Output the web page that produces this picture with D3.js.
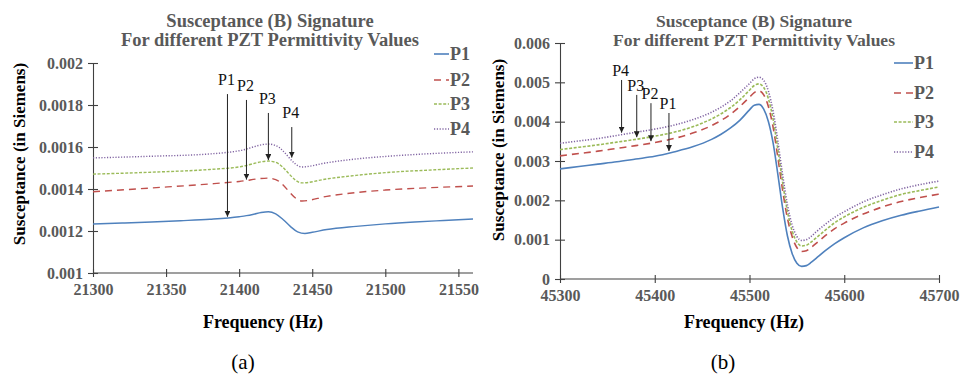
<!DOCTYPE html>
<html>
<head>
<meta charset="utf-8">
<script src="https://cdn.jsdelivr.net/npm/d3@7"></script>
<style>
  html, body { margin: 0; padding: 0; background: #fff; }
  svg { display: block; }
</style>
</head>
<body>
<svg id="chart" width="961" height="376"></svg>
<script>
// ---- Panel (a): first resonance, 21.3–21.56 kHz ----
const freqA1 = [21300, 21320, 21340, 21360, 21380, 21400, 21405, 21410, 21415, 21420, 21425,
                21430, 21435, 21440, 21445, 21450, 21460, 21480, 21500, 21520, 21540, 21560];
const p1A = [0.001233, 0.001238, 0.001243, 0.001249, 0.001256, 0.001268, 0.001273, 0.001280,
             0.001288, 0.001292, 0.001282, 0.001255, 0.001222, 0.001196, 0.001188, 0.001194,
             0.001207, 0.001222, 0.001234, 0.001243, 0.001250, 0.001257];
const freqA2 = [21300, 21340, 21380, 21400, 21420, 21425, 21443, 21460, 21480, 21500, 21530, 21560];
const p2A = [0.001387, 0.001405, 0.001424, 0.001436, 0.001452, 0.001445, 0.001343, 0.001365,
             0.001383, 0.001395, 0.001406, 0.001414];
const p3A = [0.001471, 0.001480, 0.001493, 0.001505, 0.001533, 0.001527, 0.001429, 0.001448,
             0.001465, 0.001478, 0.001490, 0.001500];
const p4A = [0.001548, 0.001556, 0.001567, 0.001582, 0.001614, 0.001607, 0.001505, 0.001525,
             0.001543, 0.001555, 0.001568, 0.001577];
const xTicksA = [21300, 21350, 21400, 21450, 21500, 21550];
const yTicksA = [0.001, 0.0012, 0.0014, 0.0016, 0.0018, 0.002];
const yTickLabelsA = ["0.001", "0.0012", "0.0014", "0.0016", "0.0018", "0.002"];
// arrow callouts: series, frequency, value where the arrow starts
const calloutsA = [
  { s: "P1", f: 21392, top: 0.001852 },
  { s: "P2", f: 21405, top: 0.001824 },
  { s: "P3", f: 21420, top: 0.001762 },
  { s: "P4", f: 21436, top: 0.001695 }
];

// ---- Panel (b): second resonance, 45.3–45.7 kHz ----
const freqB = [45300, 45320, 45340, 45360, 45380, 45400, 45420, 45440, 45460, 45470, 45480, 45490,
               45500, 45505, 45510, 45515, 45520, 45525, 45530, 45535, 45540, 45545, 45550, 45555,
               45560, 45565, 45570, 45580, 45590, 45600, 45620, 45640, 45660, 45680, 45700];
const p1B = [2.80, 2.86, 2.92, 2.98, 3.05, 3.12, 3.23, 3.36, 3.55, 3.68, 3.84, 4.04,
             4.30, 4.42, 4.44, 4.32, 4.00, 3.45, 2.65, 1.80, 1.10, 0.65, 0.40, 0.32,
             0.34, 0.42, 0.52, 0.72, 0.90, 1.05, 1.30, 1.48, 1.62, 1.73, 1.83].map(v => v / 1000);
const p2B = [3.13, 3.19, 3.25, 3.32, 3.39, 3.47, 3.57, 3.71, 3.90, 4.03, 4.19, 4.39,
             4.62, 4.74, 4.78, 4.68, 4.38, 3.85, 3.08, 2.25, 1.55, 1.08, 0.80, 0.70,
             0.72, 0.80, 0.90, 1.10, 1.28, 1.42, 1.65, 1.83, 1.97, 2.07, 2.16].map(v => v / 1000);
const p3B = [3.29, 3.35, 3.41, 3.48, 3.55, 3.63, 3.73, 3.87, 4.07, 4.20, 4.36, 4.56,
             4.80, 4.92, 4.96, 4.87, 4.58, 4.05, 3.28, 2.45, 1.72, 1.22, 0.94, 0.84,
             0.86, 0.94, 1.04, 1.24, 1.43, 1.58, 1.82, 2.00, 2.15, 2.25, 2.34].map(v => v / 1000);
const p4B = [3.45, 3.51, 3.57, 3.65, 3.73, 3.81, 3.91, 4.05, 4.24, 4.37, 4.53, 4.74,
             4.97, 5.09, 5.13, 5.05, 4.77, 4.25, 3.49, 2.64, 1.89, 1.37, 1.08, 0.98,
             1.00, 1.08, 1.19, 1.39, 1.57, 1.71, 1.96, 2.14, 2.29, 2.40, 2.49].map(v => v / 1000);
const xTicksB = [45300, 45400, 45500, 45600, 45700];
const yTicksB = [0, 0.001, 0.002, 0.003, 0.004, 0.005, 0.006];
const yTickLabelsB = ["0", "0.001", "0.002", "0.003", "0.004", "0.005", "0.006"];
const calloutsB = [
  { s: "P4", f: 45365, top: 0.00506 },
  { s: "P3", f: 45381, top: 0.00468 },
  { s: "P2", f: 45396, top: 0.00447 },
  { s: "P1", f: 45415, top: 0.00422 }
];

const seriesNames = ["P1", "P2", "P3", "P4"];
const titleLines = ["Susceptance (B) Signature", "For different PZT Permittivity Values"];
const xTitle = "Frequency (Hz)";
const yTitle = "Susceptance (in Siemens)";

// line styling per series
const styles = {
  P1: { color: "#4F81BD", dash: null },
  P2: { color: "#C0504D", dash: "7,5" },
  P3: { color: "#9BBB59", dash: "3,1.6" },
  P4: { color: "#8064A2", dash: "1.2,1.6" }
};

const serif = '"Liberation Serif", "Times New Roman", serif';
const svg = d3.select("#chart");
const gray = "#595959";

svg.append("defs").append("marker")
  .attr("id", "arrowhead")
  .attr("viewBox", "0 0 8 8")
  .attr("refX", 8).attr("refY", 4)
  .attr("markerWidth", 6).attr("markerHeight", 6)
  .attr("markerUnits", "userSpaceOnUse")
  .attr("orient", "auto")
  .append("path").attr("d", "M0,0 L8,4 L0,8 Z").attr("fill", "#222");

function label(g, txt, size, bold, fill) {
  return g.append("text")
    .style("font-family", serif)
    .style("font-size", size + "px")
    .style("font-weight", bold ? "bold" : "normal")
    .attr("fill", fill)
    .text(txt);
}

function drawPanel(cfg) {
  const g = svg.append("g");
  const x = d3.scaleLinear().domain(cfg.xDomain).range([cfg.left, cfg.right]);
  const y = d3.scaleLinear().domain(cfg.yDomain).range([cfg.bottom, cfg.top]);

  // axes with ticks crossing the axis line
  const yAxis = d3.axisLeft(y).tickValues(cfg.yTicks)
    .tickFormat((d, i) => cfg.yTickLabels[i]).tickSizeInner(5).tickSizeOuter(0).tickPadding(5);
  const gy = g.append("g").attr("transform", `translate(${cfg.left},0)`).call(yAxis);
  const xAxis = d3.axisBottom(x).tickValues(cfg.xTicks)
    .tickFormat(d3.format("d")).tickSizeInner(4).tickSizeOuter(0).tickPadding(7);
  const gx = g.append("g").attr("transform", `translate(0,${cfg.bottom})`).call(xAxis);

  [gx, gy].forEach(ax => {
    ax.select(".domain").attr("stroke", "#404040").attr("stroke-width", 1.1);
    ax.selectAll(".tick line").attr("stroke", "#404040").attr("stroke-width", 1.1);
    ax.selectAll(".tick text").attr("fill", gray)
      .style("font-size", "16px").style("font-weight", "bold")
      .style("font-family", serif);
  });
  gy.selectAll(".tick line").attr("x1", 5);
  gx.selectAll(".tick line").attr("y1", -4);
  gx.select(".domain").attr("d", `M${cfg.left},0H${cfg.axisEnd}`);

  // series lines
  cfg.series.forEach(s => {
    const pts = s.freq.map((f, i) => [f, s.values[i]]);
    const line = d3.line().x(d => x(d[0])).y(d => y(d[1])).curve(d3.curveMonotoneX);
    g.append("path").datum(pts)
      .attr("d", line)
      .attr("fill", "none")
      .attr("stroke", styles[s.name].color)
      .attr("stroke-width", cfg.lineWidth)
      .attr("stroke-dasharray", styles[s.name].dash);
  });

  // arrow callouts pointing to each series
  cfg.callouts.forEach(c => {
    const s = cfg.series.find(d => d.name === c.s);
    const i = d3.bisectLeft(s.freq, c.f);
    const f0 = s.freq[Math.max(i - 1, 0)], f1 = s.freq[i];
    const v0 = s.values[Math.max(i - 1, 0)], v1 = s.values[i];
    const t = f1 === f0 ? 0 : (c.f - f0) / (f1 - f0);
    const v = v0 + (v1 - v0) * t;
    const xx = x(c.f);
    g.append("line")
      .attr("x1", xx).attr("x2", xx)
      .attr("y1", y(c.top)).attr("y2", y(v) - cfg.tipGap)
      .attr("stroke", "#222").attr("stroke-width", 1)
      .attr("marker-end", "url(#arrowhead)");
    label(g, c.s, 16, false, "#111")
      .attr("x", xx - 1).attr("y", y(c.top) - cfg.labelGap)
      .attr("text-anchor", "middle");
  });

  // titles
  titleLines.forEach((t, i) => {
    label(g, t, cfg.titleSize, true, gray)
      .attr("x", cfg.titleX).attr("y", 27 + i * 19)
      .attr("text-anchor", "middle");
  });
  label(g, xTitle, 18, true, "#000")
    .attr("x", cfg.xTitleX).attr("y", 328)
    .attr("text-anchor", "middle");
  label(g, yTitle, 17, true, "#000")
    .attr("transform", `translate(${cfg.yTitleX},${cfg.yTitleY}) rotate(-90)`)
    .attr("text-anchor", "middle");
  label(g, cfg.tag, 21, false, "#000")
    .attr("x", cfg.tagX).attr("y", 369)
    .attr("text-anchor", "middle");

  // legend
  cfg.series.forEach((s, i) => {
    const ly = cfg.legendY[i];
    g.append("line")
      .attr("x1", cfg.legendX).attr("x2", cfg.legendX + cfg.legendLen)
      .attr("y1", ly).attr("y2", ly)
      .attr("stroke", styles[s.name].color).attr("stroke-width", 1.6)
      .attr("stroke-dasharray", styles[s.name].dash);
    label(g, s.name, 18, true, gray)
      .attr("x", cfg.legendX + cfg.legendLen + 1).attr("y", ly + 6);
  });
}

drawPanel({
  left: 93, right: 473, axisEnd: 473, top: 63, bottom: 273,
  xDomain: [21300, 21560], yDomain: [0.001, 0.002],
  xTicks: xTicksA, yTicks: yTicksA, yTickLabels: yTickLabelsA,
  series: [
    { name: "P1", freq: freqA1, values: p1A },
    { name: "P2", freq: freqA2, values: p2A },
    { name: "P3", freq: freqA2, values: p3A },
    { name: "P4", freq: freqA2, values: p4A }
  ],
  callouts: calloutsA, tipGap: 1, labelGap: 9,
  lineWidth: 1.4,
  titleX: 270, titleSize: 18.5,
  xTitleX: 263, yTitleX: 25, yTitleY: 154,
  tag: "(a)", tagX: 243,
  legendX: 434, legendLen: 15, legendY: [54, 80, 104, 129]
});

drawPanel({
  left: 560, right: 939, axisEnd: 939, top: 43, bottom: 279,
  xDomain: [45300, 45700], yDomain: [0, 0.006],
  xTicks: xTicksB, yTicks: yTicksB, yTickLabels: yTickLabelsB,
  series: [
    { name: "P1", freq: freqB, values: p1B },
    { name: "P2", freq: freqB, values: p2B },
    { name: "P3", freq: freqB, values: p3B },
    { name: "P4", freq: freqB, values: p4B }
  ],
  callouts: calloutsB, tipGap: 2, labelGap: 4,
  lineWidth: 1.6,
  titleX: 754, titleSize: 17.5,
  xTitleX: 744, yTitleX: 504, yTitleY: 150,
  tag: "(b)", tagX: 723,
  legendX: 894, legendLen: 19, legendY: [63, 93, 122, 152]
});
</script>
</body>
</html>
